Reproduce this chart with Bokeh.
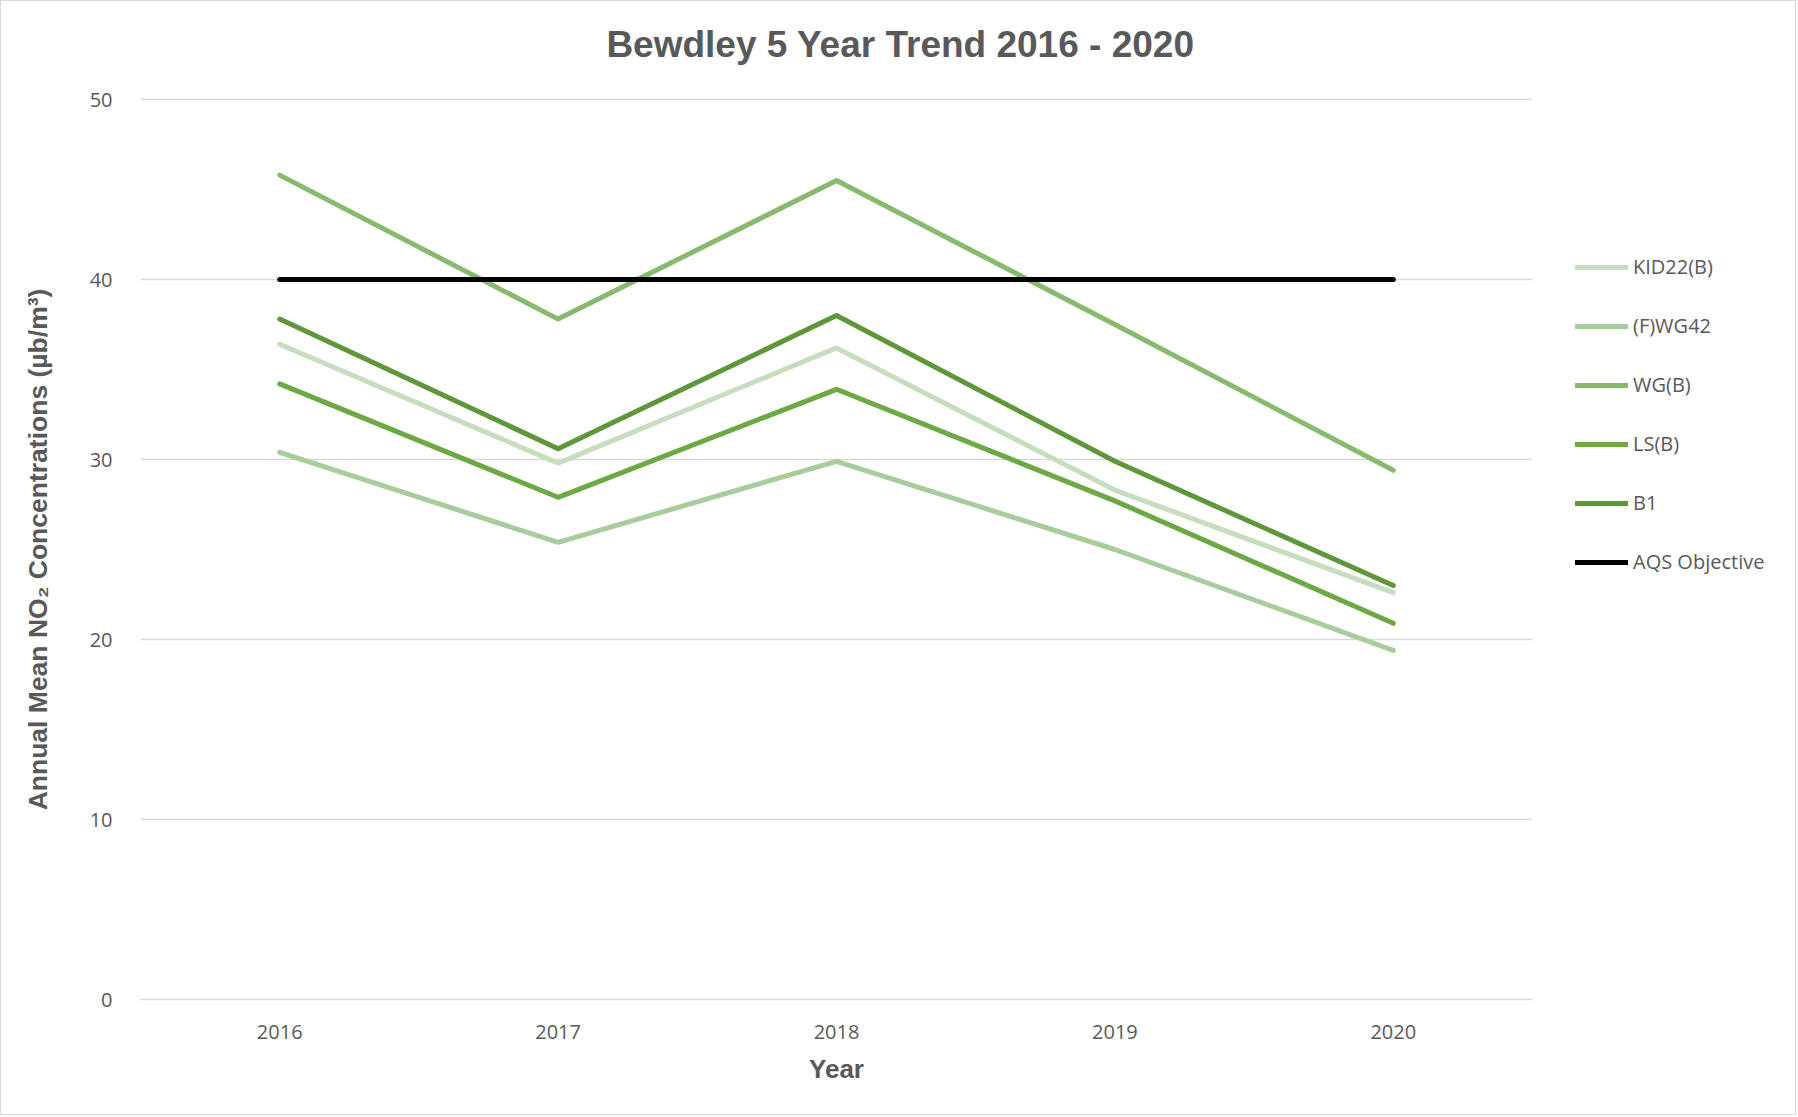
from bokeh.plotting import figure
from bokeh.models import Legend, LegendItem, Range1d, Label, LinearAxis, FixedTicker
from bokeh.embed import file_html
from bokeh.resources import INLINE

years = [2016, 2017, 2018, 2019, 2020]
year_labels = ["2016", "2017", "2018", "2019", "2020"]
kid22_b = [36.4, 29.8, 36.2, 28.3, 22.6]
f_wg42 = [30.4, 25.4, 29.9, 25.0, 19.4]
wg_b = [45.8, 37.8, 45.5, 37.5, 29.4]
ls_b = [34.2, 27.9, 33.9, 27.7, 20.9]
b1 = [37.8, 30.6, 38.0, 29.9, 23.0]
aqs_objective = [40, 40, 40, 40, 40]

series_names = ["KID22(B)", "(F)WG42", "WG(B)", "LS(B)", "B1", "AQS Objective"]
series_values = [kid22_b, f_wg42, wg_b, ls_b, b1, aqs_objective]
series_colors = ["#C7DDBF", "#A9CC9D", "#88BA6E", "#6CA843", "#5E963A", "#000000"]
y_ticks = [0, 10, 20, 30, 40, 50]

TITLE = "Bewdley 5 Year Trend 2016 - 2020"
X_TITLE = "Year"
Y_TITLE = "Annual Mean NO\u2082 Concentrations (\u00b5b/m\u00b3)"

GREY = "#595959"

# layout geometry (pixels)
W, H = 1796, 1115
LEFT, BOTTOM = 139, 117
PX_PER_YEAR = 278.4
PX_PER_UNIT = 18.0
x_lo, x_hi = years[0] - 0.5, years[-1] + 0.5
y_lo, y_hi = y_ticks[0], y_ticks[-1]
x_end = x_lo + (W - LEFT) / PX_PER_YEAR
y_end = (H - BOTTOM) / PX_PER_UNIT
x_mid = (x_lo + x_hi) / 2
y_mid = (y_lo + y_hi) / 2

p = figure(
    width=W, height=H,
    x_range=Range1d(x_lo, x_end),
    y_range=Range1d(y_lo, y_end),
    output_backend="svg", toolbar_location=None,
    min_border_left=LEFT, min_border_right=0,
    min_border_top=0, min_border_bottom=BOTTOM,
    background_fill_color="white", border_fill_color="white",
)
p.styles = {"border": "1px solid #d9d9d9"}
p.outline_line_color = None

# title
title_x = x_lo + (899 - LEFT) / PX_PER_YEAR
title_y = y_end - 42.6 / PX_PER_UNIT
p.add_layout(Label(x=title_x, y=title_y, text=TITLE,
                   text_align="center", text_baseline="middle",
                   text_font="Liberation Sans", text_font_size="37px",
                   text_font_style="bold", text_color=GREY))

# y axis (ticks)
p.yaxis.ticker = y_ticks
p.yaxis.bounds = (y_lo, y_hi)
p.yaxis.axis_line_color = None
p.yaxis.major_tick_line_color = None
p.yaxis.minor_tick_line_color = None
p.yaxis.major_label_text_font = "Open Sans"
p.yaxis.major_label_text_font_size = "20px"
p.yaxis.major_label_text_color = GREY
p.yaxis.major_label_standoff = 22

# y axis title, centred on the 0-50 extent
ytitle_axis = LinearAxis(ticker=FixedTicker(ticks=[y_mid]),
                         major_label_overrides={y_mid: Y_TITLE},
                         major_label_orientation="parallel",
                         axis_line_color=None, major_tick_line_color=None,
                         minor_tick_line_color=None,
                         major_label_text_font="Liberation Sans",
                         major_label_text_font_size="26.5px",
                         major_label_text_font_style="bold",
                         major_label_text_color=GREY,
                         major_label_standoff=28)
p.add_layout(ytitle_axis, "left")

# x axis (ticks)
p.xaxis.ticker = years
p.xaxis.major_label_overrides = {y: s for y, s in zip(years, year_labels)}
p.xaxis.bounds = (x_lo, x_hi)
p.xaxis.axis_line_color = "#d9d9d9"
p.xaxis.axis_line_width = 1.5
p.xaxis.major_tick_line_color = None
p.xaxis.minor_tick_line_color = None
p.xaxis.major_label_text_font = "Open Sans"
p.xaxis.major_label_text_font_size = "20px"
p.xaxis.major_label_text_color = GREY
p.xaxis.major_label_standoff = 19

# x axis title, centred on the category extent
xtitle_axis = LinearAxis(ticker=FixedTicker(ticks=[x_mid]),
                         major_label_overrides={x_mid: X_TITLE},
                         axis_line_color=None, major_tick_line_color=None,
                         minor_tick_line_color=None,
                         major_label_text_font="Liberation Sans",
                         major_label_text_font_size="26px",
                         major_label_text_font_style="bold",
                         major_label_text_color=GREY,
                         major_label_standoff=6)
p.add_layout(xtitle_axis, "below")

p.xgrid.grid_line_color = None
yg = p.ygrid[0]
if "cross_bounds" in yg.properties():
    yg.ticker = y_ticks
    yg.cross_bounds = (x_lo, x_hi)
    yg.grid_line_color = "#d9d9d9"
    yg.grid_line_width = 1.5
else:
    yg.grid_line_color = None
    p.segment(x0=[x_lo] * len(y_ticks), x1=[x_hi] * len(y_ticks), y0=y_ticks, y1=y_ticks,
              line_color="#d9d9d9", line_width=1.5)

items = []
for name, vals, col in zip(series_names, series_values, series_colors):
    r = p.line(years, vals, line_color=col, line_width=5,
               line_cap="round", line_join="round")
    items.append(LegendItem(label=name, renderers=[r]))

legend = Legend(items=items, location=(1435, 424), orientation="vertical",
                glyph_width=53, glyph_height=20, label_height=20,
                label_standoff=5, spacing=32, padding=0, margin=0,
                border_line_color=None, background_fill_alpha=0,
                label_text_font="Open Sans", label_text_font_size="20px",
                label_text_color=GREY)
p.add_layout(legend)

open("out.html", "w").write(file_html(p, INLINE))
